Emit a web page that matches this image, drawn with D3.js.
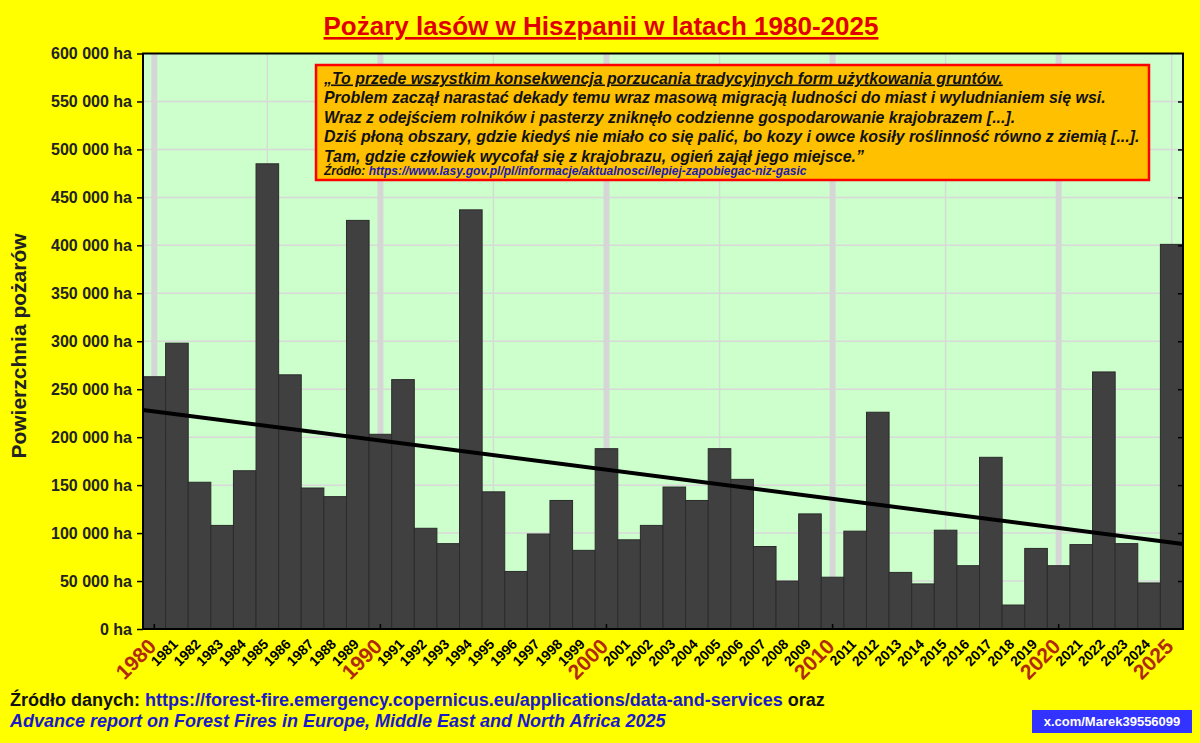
<!DOCTYPE html>
<html>
<head>
<meta charset="utf-8">
<script src="https://cdn.jsdelivr.net/npm/d3@7"></script>
<style>
  html, body { margin: 0; padding: 0; background: #ffff00; }
  svg { display: block; font-family: "Liberation Sans", Arial, sans-serif; }
</style>
</head>
<body>
<div id="chart"></div>
<script>
// lata i powierzchnia spalona (ha)
const years = d3.range(1980, 2026);
const burnedArea = [
  263000, 298000, 153000, 108000, 165000, 485000, 265000, 147000, 138000, 426000,
  203000, 260000, 105000, 89000, 437000, 143000, 60000, 99000, 134000, 82000,
  188000, 93000, 108000, 148000, 134000, 188000, 156000, 86000, 50000, 120000,
  54000, 102000, 226000, 59000, 47000, 103000, 66000, 179000, 25000, 84000,
  66000, 88000, 268000, 89000, 48000, 401000
];
const yTicks = d3.range(0, 600001, 50000);
const decadeYears = [1980, 1990, 2000, 2010, 2020];
const bigLabelYears = [1980, 1990, 2000, 2010, 2020, 2025];
// linia trendu: wartosci na lewym i prawym brzegu obszaru wykresu
const trendEnds = [228300, 88600];

const titleText = "Pożary lasów w Hiszpanii w latach 1980-2025";
const quoteLines = [
  "„To przede wszystkim konsekwencja porzucania tradycyjnych form użytkowania gruntów.",
  "Problem zaczął narastać dekady temu wraz masową migracją ludności do miast i wyludnianiem się wsi.",
  "Wraz z odejściem rolników i pasterzy zniknęło codzienne gospodarowanie krajobrazem [...].",
  "Dziś płoną obszary, gdzie kiedyś nie miało co się palić, bo kozy i owce kosiły roślinność równo z ziemią [...].",
  "Tam, gdzie człowiek wycofał się z krajobrazu, ogień zajął jego miejsce.”"
];
const quoteSource = "https://www.lasy.gov.pl/pl/informacje/aktualnosci/lepiej-zapobiegac-niz-gasic";
const dataSource = "https://forest-fire.emergency.copernicus.eu/applications/data-and-services";
const reportText = "Advance report on Forest Fires in Europe, Middle East and North Africa 2025";
const badgeText = "x.com/Marek39556099";

const W = 1200, H = 743;
const plot = { left: 143, right: 1183, top: 53.5, bottom: 629 };

const svg = d3.select("#chart").append("svg")
  .attr("width", W)
  .attr("height", H);

svg.append("rect").attr("width", W).attr("height", H).attr("fill", "#ffff00");

const x = d3.scaleBand().domain(years).range([plot.left, plot.right]).padding(0);
const y = d3.scaleLinear().domain([0, 600000]).range([plot.bottom, plot.top]);
const cx = (yr) => x(yr) + x.bandwidth() / 2;

const locale = d3.formatLocale({ decimal: ",", thousands: " ", grouping: [3], currency: ["", ""] });
const fmt = locale.format(",");

// tlo obszaru wykresu
svg.append("rect")
  .attr("x", plot.left).attr("y", plot.top)
  .attr("width", plot.right - plot.left).attr("height", plot.bottom - plot.top)
  .attr("fill", "#ccffcc");

// siatka pozioma
svg.append("g")
  .selectAll("line")
  .data(yTicks.filter((d) => d > 0 && d < 600000))
  .join("line")
  .attr("x1", plot.left).attr("x2", plot.right)
  .attr("y1", (d) => y(d)).attr("y2", (d) => y(d))
  .attr("stroke", "#d8d8d8").attr("stroke-width", 1.5);

// siatka pionowa co 5 lat, grubsza co dekade
svg.append("g")
  .selectAll("line")
  .data(years.filter((d) => d % 5 === 0))
  .join("line")
  .attr("x1", (d) => cx(d)).attr("x2", (d) => cx(d))
  .attr("y1", plot.top).attr("y2", plot.bottom)
  .attr("stroke", (d) => decadeYears.includes(d) ? "#d6d6d6" : "#d4dcd4")
  .attr("stroke-width", (d) => decadeYears.includes(d) ? 6 : 1.5);

// slupki
svg.append("g")
  .selectAll("rect")
  .data(years)
  .join("rect")
  .attr("x", (d) => x(d))
  .attr("y", (d, i) => y(burnedArea[i]))
  .attr("width", x.bandwidth())
  .attr("height", (d, i) => plot.bottom - y(burnedArea[i]))
  .attr("fill", "#404040")
  .attr("stroke", "#2b2b2b")
  .attr("stroke-width", 1);

// linia trendu
svg.append("line")
  .attr("x1", plot.left).attr("y1", y(trendEnds[0]))
  .attr("x2", plot.right).attr("y2", y(trendEnds[1]))
  .attr("stroke", "#000").attr("stroke-width", 4);

// ramka
svg.append("rect")
  .attr("x", plot.left).attr("y", plot.top)
  .attr("width", plot.right - plot.left).attr("height", plot.bottom - plot.top)
  .attr("fill", "none").attr("stroke", "#000").attr("stroke-width", 2);

// os Y lewa
const yAxisL = svg.append("g")
  .attr("transform", `translate(${plot.left},0)`)
  .call(d3.axisLeft(y).tickValues(yTicks).tickSize(6).tickPadding(5).tickFormat((d) => fmt(d) + " ha"));
yAxisL.select(".domain").remove();
yAxisL.selectAll(".tick line").attr("stroke", "#000").attr("stroke-width", 1.5);
yAxisL.selectAll(".tick text")
  .attr("font-size", 16).attr("font-weight", "bold").attr("fill", "#222")
  .attr("font-family", "'Liberation Sans', Arial, sans-serif");

// os Y prawa (kreski do srodka)
const yAxisR = svg.append("g")
  .attr("transform", `translate(${plot.right},0)`)
  .call(d3.axisRight(y).tickValues(yTicks.filter((d) => d > 0 && d < 600000)).tickSize(-5).tickFormat(""));
yAxisR.select(".domain").remove();
yAxisR.selectAll(".tick line").attr("stroke", "#000").attr("stroke-width", 1.5);

// os X
const xAxis = svg.append("g")
  .attr("transform", `translate(0,${plot.bottom})`)
  .call(d3.axisBottom(x).tickSize(0).tickPadding(0));
xAxis.select(".domain").remove();
xAxis.selectAll(".tick text").remove();
xAxis.selectAll(".tick")
  .filter((d) => decadeYears.includes(d))
  .append("line")
  .attr("y1", 0).attr("y2", -5)
  .attr("stroke", "#000").attr("stroke-width", 1.5);

xAxis.selectAll(".tick")
  .append("text")
  .attr("text-anchor", "end")
  .attr("transform", (d) => bigLabelYears.includes(d)
    ? "translate(-8,7.5) rotate(-45)"
    : "translate(-5.5,8.5) rotate(-45)")
  .attr("dy", "0.75em")
  .attr("font-family", "'Liberation Sans', Arial, sans-serif")
  .attr("font-weight", "bold")
  .attr("font-size", (d) => bigLabelYears.includes(d) ? 21 : 14)
  .attr("fill", (d) => bigLabelYears.includes(d) ? "#b02a0a" : "#000")
  .text((d) => d);

// tytul osi Y
svg.append("text")
  .attr("transform", "translate(26,346) rotate(-90)")
  .attr("text-anchor", "middle")
  .attr("font-size", 21).attr("font-weight", "bold").attr("fill", "#222")
  .text("Powierzchnia pożarów");

// tytul
svg.append("text")
  .attr("x", 601).attr("y", 35)
  .attr("text-anchor", "middle")
  .attr("font-size", 26).attr("font-weight", "bold").attr("fill", "#e00000")
  .attr("text-decoration", "underline")
  .text(titleText);

// cytat
const box = svg.append("g");
box.append("rect")
  .attr("x", 316).attr("y", 65).attr("width", 833).attr("height", 115)
  .attr("fill", "#ffc000").attr("stroke", "#ff0000").attr("stroke-width", 2.5);
box.selectAll("text.q")
  .data(quoteLines)
  .join("text")
  .attr("class", "q")
  .attr("x", 324).attr("y", (d, i) => 83.5 + i * 19.5)
  .attr("font-size", 15.9).attr("font-weight", "bold").attr("font-style", "italic").attr("fill", "#111")
  .attr("text-decoration", (d, i) => i === 0 ? "underline" : null)
  .text((d) => d);
const src = box.append("text")
  .attr("x", 324).attr("y", 175)
  .attr("font-size", 12).attr("font-weight", "bold").attr("font-style", "italic");
src.append("tspan").attr("fill", "#111").text("Źródło: ");
src.append("tspan").attr("fill", "#1a1ab0").text(quoteSource);

// zrodla na dole
const s1 = svg.append("text")
  .attr("x", 10).attr("y", 706)
  .attr("font-size", 18).attr("font-weight", "bold");
s1.append("tspan").attr("fill", "#111").text("Źródło danych: ");
s1.append("tspan").attr("fill", "#1a1ac8").text(dataSource);
s1.append("tspan").attr("fill", "#111").text(" oraz");

svg.append("text")
  .attr("x", 10).attr("y", 727)
  .attr("font-size", 18).attr("font-weight", "bold").attr("font-style", "italic")
  .attr("fill", "#1a1ac8")
  .text(reportText);

svg.append("rect")
  .attr("x", 1032).attr("y", 710).attr("width", 160).attr("height", 23)
  .attr("fill", "#3333ff");
svg.append("text")
  .attr("x", 1112).attr("y", 726)
  .attr("text-anchor", "middle")
  .attr("font-size", 13).attr("font-weight", "bold").attr("fill", "#fff")
  .text(badgeText);
</script>
</body>
</html>
